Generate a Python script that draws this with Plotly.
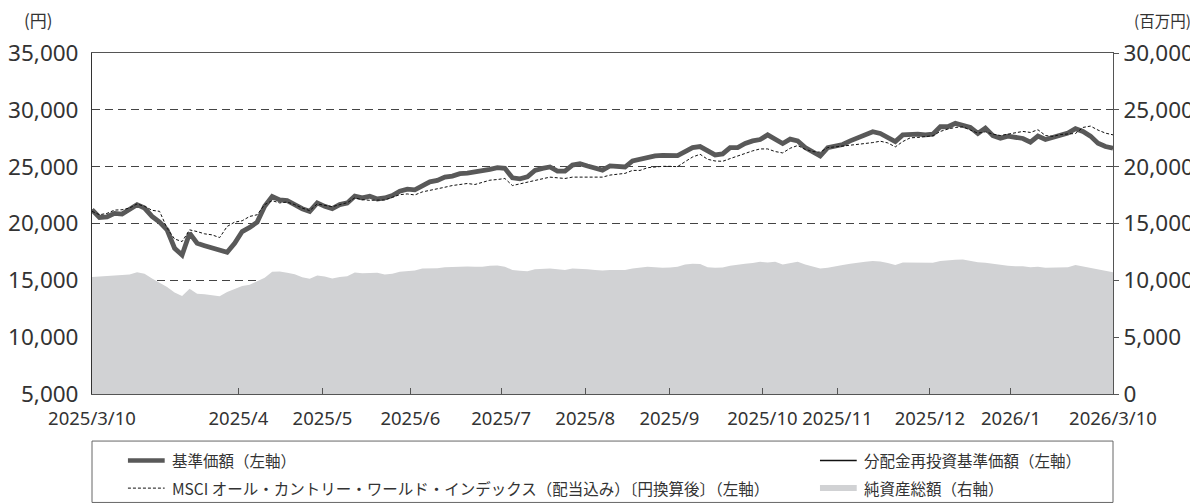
import plotly.graph_objects as go

# ---------------- data ----------------
# one sample every ~7.5 px of the original x axis (137 samples)
nav = [21210, 20530, 20590, 20890, 20830, 21210, 21660, 21360, 20620, 20120,
       19440, 17820, 17230, 19150, 18260, 18050, 17880, 17730, 17460, 18260,
       19290, 19650, 20120, 21510, 22370, 22070, 22010, 21660, 21300, 21070,
       21810, 21510, 21300, 21660, 21810, 22400, 22250, 22400, 22160, 22250,
       22460, 22840, 23020, 22960, 23370, 23670, 23790, 24080, 24170, 24380,
       24440, 24520, 24610, 24760, 24910, 24850, 24020, 23930, 24110, 24670,
       24850, 24970, 24610, 24610, 25140, 25260, 25060, 24910, 24700, 25060,
       25030, 24970, 25500, 25650, 25880, 25940, 26000, 25970, 25970, 26330,
       26680, 26770, 26390, 26030, 26120, 26680, 26680, 27040, 27270, 27390,
       27800, 27420, 27040, 27420, 27270, 26680, 26330, 25940, 26680, 26860,
       26950, 27270, 27570, 27800, 28070, 27920, 27570, 27210, 27800, 27860,
       27860, 27800, 27860, 28510, 28510, 28810, 28600, 28450, 27920, 28390,
       27720, 27510, 27690, 27630, 27480, 27150, 27690, 27390, 27570, 27660,
       27950, 28340, 28100, 27690, 27070, 26770, 26620]

# no distributions paid: reinvested NAV equals NAV
nav_reinvested = list(nav)

msci = [21070, 20770, 20890, 21180, 21210, 21360, 21720, 21510, 21160, 21070,
        19590, 18640, 18410, 19440, 19290, 19090, 19000, 18760, 19740, 20120,
        20240, 20620, 20770, 21660, 22010, 21810, 21890, 21660, 21360, 21130,
        21720, 21600, 21480, 21660, 21830, 22250, 22100, 22040, 22070, 22070,
        22310, 22540, 22600, 22510, 22780, 22900, 23050, 23190, 23340, 23430,
        23520, 23430, 23640, 23810, 23870, 23960, 23340, 23490, 23640, 23840,
        23990, 24080, 24020, 23960, 24080, 24080, 24080, 24020, 24080, 24260,
        24320, 24410, 24670, 24670, 24910, 25000, 25030, 25030, 25000, 25440,
        25850, 26090, 25650, 25500, 25470, 25710, 25940, 26150, 26390, 26560,
        26560, 26330, 26210, 26620, 26860, 26530, 26330, 26270, 26680, 26740,
        26800, 26890, 26950, 27040, 27120, 27240, 27090, 26740, 27210, 27540,
        27570, 27630, 27720, 28100, 28310, 28450, 28510, 28220, 27950, 28070,
        27860, 27740, 27860, 27980, 28100, 28010, 28250, 27740, 27660, 27830,
        27860, 27920, 28450, 28570, 28220, 27950, 27800]

net_assets = [10300, 10330, 10420, 10390, 10450, 10510, 10720, 10570, 10160, 9770,
              9420, 8920, 8620, 9270, 8830, 8770, 8680, 8590, 8970, 9270,
              9510, 9620, 9920, 10220, 10750, 10780, 10660, 10540, 10270, 10130,
              10420, 10330, 10160, 10300, 10360, 10690, 10630, 10630, 10660, 10510,
              10570, 10750, 10810, 10870, 11040, 11040, 11070, 11160, 11190, 11190,
              11220, 11190, 11190, 11280, 11310, 11190, 10920, 10840, 10810, 10980,
              11040, 11040, 10980, 10920, 11040, 11040, 10980, 10920, 10870, 10920,
              10920, 10920, 11040, 11130, 11190, 11160, 11100, 11130, 11190, 11400,
              11460, 11430, 11160, 11100, 11130, 11280, 11400, 11460, 11520, 11630,
              11570, 11630, 11400, 11520, 11630, 11400, 11190, 11040, 11100, 11250,
              11340, 11460, 11570, 11630, 11690, 11660, 11520, 11340, 11570, 11570,
              11570, 11520, 11550, 11690, 11780, 11810, 11840, 11720, 11600, 11550,
              11460, 11310, 11280, 11250, 11250, 11160, 11190, 11100, 11130, 11130,
              11160, 11340, 11220, 11100, 10920, 10840, 10720]

x_index = list(range(len(nav)))

# x-axis labels and the sample index at which each falls
tick_labels = ["2025/3/10", "2025/4", "2025/5", "2025/6", "2025/7", "2025/8",
               "2025/9", "2025/10", "2025/11", "2025/12", "2026/1", "2026/3/10"]
tick_index = [0, 19.5, 30.7, 42.4, 54.5, 65.7, 76.9, 89.3, 99.3, 111.6, 122.4, 136]

left_ticks = [5000, 10000, 15000, 20000, 25000, 30000, 35000]
right_ticks = [0, 5000, 10000, 15000, 20000, 25000, 30000]

name_nav = "基準価額（左軸）"
name_reinv = "分配金再投資基準価額（左軸）"
name_msci = "MSCI オール・カントリー・ワールド・インデックス（配当込み）〔円換算後〕（左軸）"
name_assets = "純資産総額（右軸）"

# ---------------- styles ----------------
TXT = "#333333"
NUM_FONT = "Noto Sans, Open Sans, sans-serif"
JP_FONT = "Noto Sans CJK JP, Noto Sans, sans-serif"
AREA_COL = "#d1d2d4"
NAV_COL = "#595959"

fig = go.Figure()

fig.add_trace(go.Scatter(
    x=x_index, y=net_assets, yaxis="y2", mode="lines",
    line=dict(width=0, color=AREA_COL), fill="tozeroy", fillcolor=AREA_COL,
    name=name_assets, showlegend=False, hoverinfo="skip"))

fig.add_trace(go.Scatter(
    x=x_index, y=nav_reinvested, mode="lines",
    line=dict(width=1.3, color="#111111"), name=name_reinv, showlegend=False))

fig.add_trace(go.Scatter(
    x=x_index, y=nav, mode="lines",
    line=dict(width=4.8, color=NAV_COL), name=name_nav, showlegend=False))

fig.add_trace(go.Scatter(
    x=x_index, y=msci, mode="lines",
    line=dict(width=1, color="#111111", dash="3px,2px"), name=name_msci,
    showlegend=False))

# the page body adds an 8px offset, so the figure is laid out 8px up/left
fig.update_layout(
    width=1190, height=495,
    margin=dict(l=84, r=85, t=45, b=109, autoexpand=False),
    paper_bgcolor="white", plot_bgcolor="white",
    xaxis=dict(
        range=[0, len(nav) - 1], tickmode="array",
        tickvals=tick_index, ticktext=tick_labels, tickangle=0,
        ticks="inside", ticklen=6, tickcolor="#555555", tickwidth=1,
        showline=True, linecolor="#555555", linewidth=1, mirror=True,
        showgrid=False, zeroline=False, automargin=False,
        ticklabelstandoff=8,
        tickfont=dict(family=NUM_FONT, size=18.5, color=TXT),
    ),
    yaxis=dict(
        range=[5000, 35000], tickmode="array", tickvals=left_ticks,
        tickformat=",d", showline=True, linecolor="#333333", linewidth=1,
        ticks="", showgrid=True, gridcolor="#444444", gridwidth=1,
        griddash="8px,5px", zeroline=False, automargin=False,
        ticklabelstandoff=8,
        tickfont=dict(family=NUM_FONT, size=22.5, color=TXT),
    ),
    yaxis2=dict(
        range=[0, 30000], tickmode="array", tickvals=right_ticks,
        tickformat=",d", overlaying="y", side="right",
        showline=True, linecolor="#555555", linewidth=1,
        ticks="outside", ticklen=5, tickcolor="#555555",
        showgrid=False, zeroline=False, automargin=False,
        tickfont=dict(family=NUM_FONT, size=22.5, color=TXT),
    ),
    showlegend=False,
)

# axis unit labels
fig.add_annotation(text="(円)", xref="paper", yref="paper", x=-0.036, y=1.097,
                   xanchor="right", yanchor="middle", showarrow=False,
                   font=dict(family=JP_FONT, size=17, color=TXT))
fig.add_annotation(text="(百万円)", xref="paper", yref="paper", x=1.0785, y=1.097,
                   xanchor="right", yanchor="middle", showarrow=False,
                   font=dict(family=JP_FONT, size=15.5, color=TXT))

# legend box (drawn below the plot)
fig.add_shape(type="rect", xref="paper", yref="paper",
              x0=0, x1=1, y0=-0.318, y1=-0.138,
              line=dict(color="#666666", width=1), fillcolor="white")

legend_items = [
    (name_nav, 0.0352, -0.195, dict(color=NAV_COL, width=4.5)),
    (name_reinv, 0.713, -0.195, dict(color="#111111", width=1.5)),
    (name_msci, 0.0352, -0.276, dict(color="#111111", width=1, dash="3px,2px")),
    (name_assets, 0.713, -0.276, dict(color=AREA_COL, width=6)),
]
for text, x0, yy, ln in legend_items:
    fig.add_shape(type="line", xref="paper", yref="paper",
                  x0=x0, x1=x0 + 0.036, y0=yy, y1=yy, line=ln)
    fig.add_annotation(text=text, xref="paper", yref="paper",
                       x=x0 + 0.041, y=yy, xanchor="left", yanchor="middle",
                       showarrow=False,
                       font=dict(family=JP_FONT, size=15.5, color=TXT))

fig.write_html("out.html")
